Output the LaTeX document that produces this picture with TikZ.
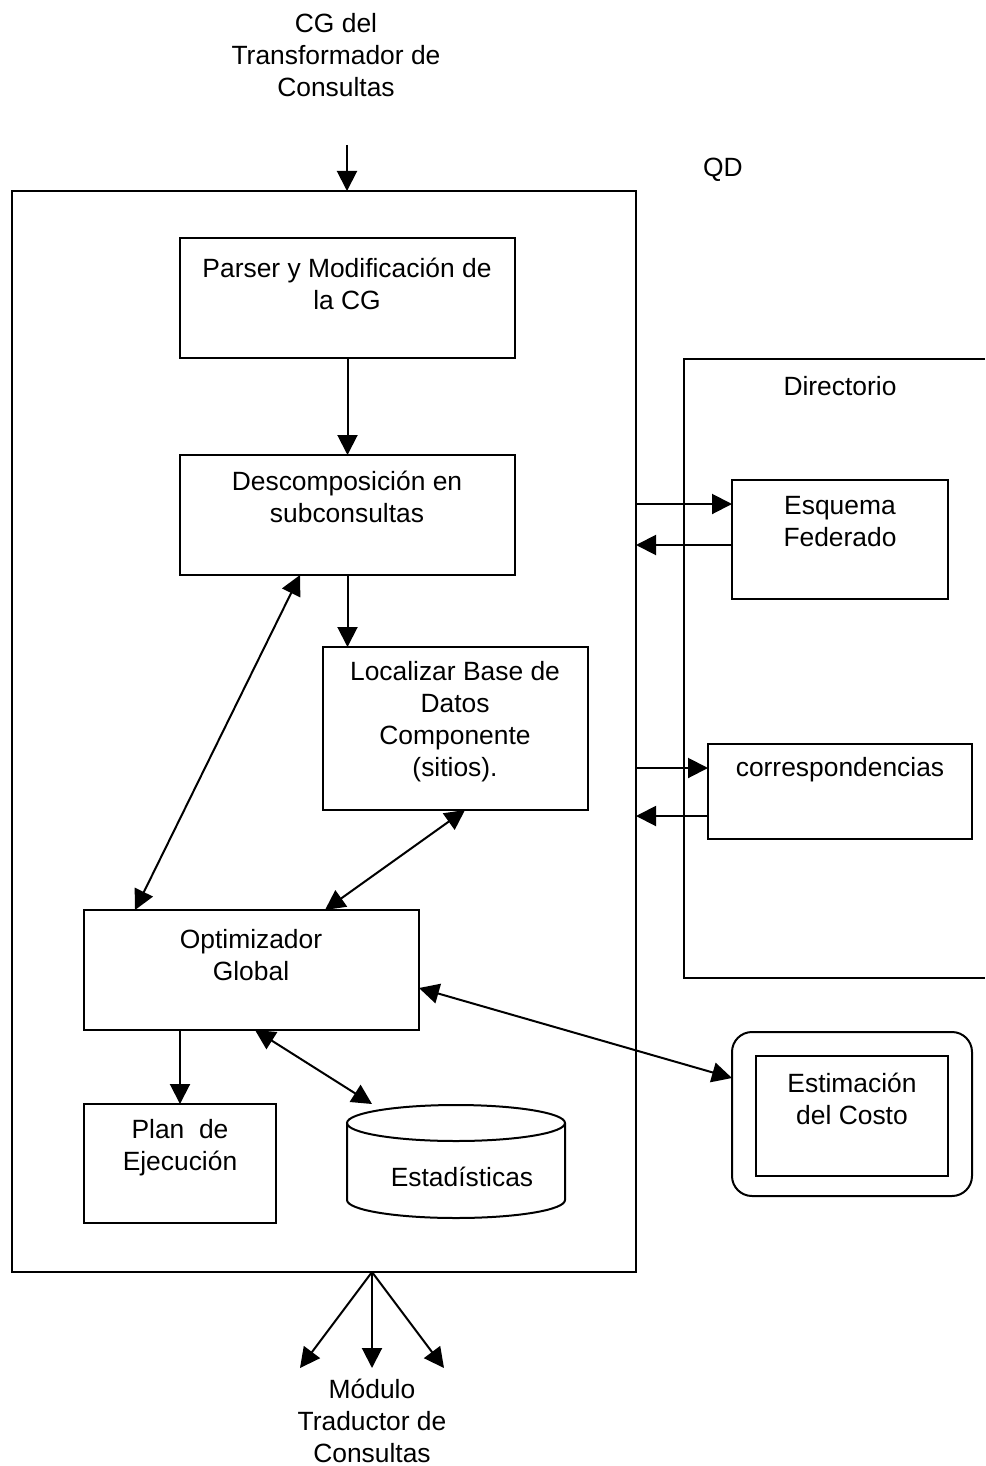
\documentclass[tikz,border=0pt]{standalone}
\usepackage{fontspec}
\setmainfont{Liberation Sans}
\usetikzlibrary{arrows.meta,calc}
\begin{document}
\begin{tikzpicture}[x=1pt,y=-1pt,
  line width=2pt,
  box/.style={draw,inner sep=0pt,outer sep=0pt},
  txt/.style={align=center,inner sep=0pt,font=\fontsize{26.4pt}{32pt}\selectfont},
  arr/.style={-{Triangle[length=20pt,width=20pt]}},
  darr/.style={{Triangle[length=20pt,width=20pt]}-{Triangle[length=20pt,width=20pt]}}]
\useasboundingbox (0,0) rectangle (985,1466);

% main query decomposer frame
\node[box,minimum width=624pt,minimum height=1081pt] (qd) at (324,731.5) {};
\node[txt] (qdl) at (723,170) {QD};

% inner processing steps
\node[box,minimum width=335pt,minimum height=120pt] (parser) at (347.5,298) {};
\node[txt] at (347,284) {Parser y Modificación de\\la CG};
\node[box,minimum width=335pt,minimum height=120pt] (desc) at (347.5,515) {};
\node[txt] at (347,497) {Descomposición en\\subconsultas};
\node[box,minimum width=265pt,minimum height=163pt] (loc) at (455.5,728.5) {};
\node[txt] at (455,722) {Localizar Base de\\Datos\\Componente\\(sitios).};
\node[box,minimum width=335pt,minimum height=120pt] (opt) at (251.5,970) {};
\node[txt] at (251,955) {Optimizador\\Global};
\node[box,minimum width=192pt,minimum height=119pt] (plan) at (180,1163.5) {};
\node[txt] at (180,1148) {Plan\ \ de\\Ejecución};

% statistics store
\draw (456,1123) ellipse [x radius=109pt,y radius=18pt];
\draw (347,1123) -- (347,1200) arc [start angle=180,end angle=360,x radius=109pt,y radius=18pt] -- (565,1123);
\node[txt] (stat) at (462,1177) {Estadísticas};
\coordinate (cyl) at (372,1104);

% directory
\draw (985,359) -| (684,978) -- (985,978);
\node[txt] (dirl) at (840,386) {Directorio};
\node[box,minimum width=216pt,minimum height=119pt] (esq) at (840,539.5) {};
\node[txt] at (840,522) {Esquema\\Federado};
\node[box,minimum width=264pt,minimum height=95pt] (corr) at (840,791.5) {};
\node[txt] at (840,770) {correspondencias};

% cost estimation
\node[box,rounded corners=20pt,minimum width=240pt,minimum height=164pt] (est) at (852,1114) {};
\node[box,minimum width=192pt,minimum height=120pt] (esti) at (852,1116) {};
\node[txt] at (852,1099) {Estimación\\del Costo};

% external texts
\node[txt] (cg) at (336,55) {CG del\\Transformador de\\Consultas};
\node[txt] (mtc) at (372,1421) {Módulo\\Traductor de\\Consultas};

% connectors
\coordinate (in) at (347,145);
\draw[arr] (in) -- (in |- qd.north);
\draw[arr] (parser.south) -- (desc.north);
\draw[arr] (desc.south) -- (desc.south |- loc.north);
\draw[arr] (plan.north |- opt.south) -- (plan.north);
\draw[darr] ($(desc.south west)+(120,0)$) -- ($(opt.north west)+(51,0)$);
\draw[darr] ($(loc.south west)+(142,0)$) -- ($(opt.north west)+(241,0)$);
\draw[darr] ($(opt.south west)+(171,0)$) -- (cyl);
\draw[darr] ([yshift=-18pt]opt.east) -- ([yshift=36pt]est.west);

\coordinate (e1) at ([yshift=35.5pt]esq.west);
\coordinate (e2) at ([yshift=-5.5pt]esq.west);
\draw[arr] (qd.east |- e1) -- (e1);
\draw[arr] (e2) -- (qd.east |- e2);
\coordinate (c1) at ([yshift=23.5pt]corr.west);
\coordinate (c2) at ([yshift=-24.5pt]corr.west);
\draw[arr] (qd.east |- c1) -- (c1);
\draw[arr] (c2) -- (qd.east |- c2);

\coordinate (out) at (372,1272);
\coordinate (t1) at (300,1368);
\coordinate (t2) at (372,1368);
\coordinate (t3) at (444,1368);
\draw[arr] (out) -- (t1);
\draw[arr] (out) -- (t2);
\draw[arr] (out) -- (t3);
\end{tikzpicture}
\end{document}
